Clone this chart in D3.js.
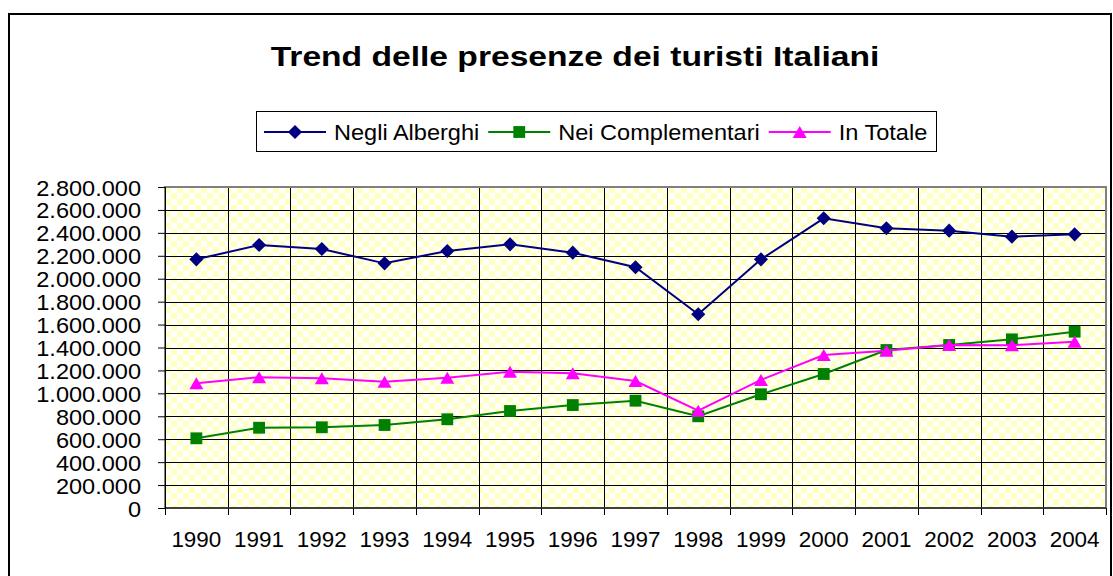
<!DOCTYPE html>
<html>
<head>
<meta charset="utf-8">
<script src="https://cdn.jsdelivr.net/npm/d3@7"></script>
<style>
  body { margin: 0; background: #fff; }
  text { font-family: "Liberation Sans", Arial, sans-serif; fill: #000; }
</style>
</head>
<body>
<div id="chart"></div>
<script>
// chart data
const years = ["1990","1991","1992","1993","1994","1995","1996","1997","1998","1999","2000","2001","2002","2003","2004"];
const alberghi = [2169000, 2294000, 2259000, 2134000, 2242000, 2300000, 2227000, 2100000, 1690000, 2169000, 2527000, 2440000, 2419000, 2367000, 2387000];
const complementari = [608000, 700000, 704000, 724000, 774000, 846000, 898000, 936000, 800000, 992000, 1169000, 1378000, 1422000, 1471000, 1538000];
const totale = [1088000, 1140000, 1131000, 1102000, 1137000, 1189000, 1175000, 1108000, 849000, 1117000, 1335000, 1372000, 1422000, 1420000, 1451000];
const seriesNames = ["Negli Alberghi", "Nei Complementari", "In Totale"];
const yTicks = [0, 200000, 400000, 600000, 800000, 1000000, 1200000, 1400000, 1600000, 1800000, 2000000, 2200000, 2400000, 2600000, 2800000];

const WIDTH = 1113, HEIGHT = 576;
const plot = {left: 165, top: 187, right: 1106, bottom: 508};

// text in the picture is a bit wider than plain Arial
// returns the new width
function stretch(sel, k) {
    let last = 0;
    sel.each(function() {
        let w = this.getComputedTextLength();
        last = w * k;
        d3.select(this).attr("textLength", last).attr("lengthAdjust", "spacingAndGlyphs");
    });
    return last;
}

const it = d3.formatLocale({decimal: ",", thousands: ".", grouping: [3], currency: ["", "€"]});
const fmt = it.format(",d");

let svg = d3.select("#chart").append("svg")
    .attr("width", WIDTH)
    .attr("height", HEIGHT);

svg.append("rect").attr("width", WIDTH).attr("height", HEIGHT).attr("fill", "#fff");

// checkered background of the plot area
let defs = svg.append("defs");
let pat = defs.append("pattern")
    .attr("id", "checker")
    .attr("patternUnits", "userSpaceOnUse")
    .attr("x", plot.left).attr("y", plot.top)
    .attr("width", 12).attr("height", 12);
pat.append("rect").attr("width", 12).attr("height", 12).attr("fill", "#fff");
pat.append("rect").attr("width", 6).attr("height", 6).attr("fill", "#ffffc0");
pat.append("rect").attr("x", 6).attr("y", 6).attr("width", 6).attr("height", 6).attr("fill", "#ffffc0");

// outer frame (bottom edge runs off the picture)
svg.append("rect")
    .attr("x", 9).attr("y", 14)
    .attr("width", 1102).attr("height", 620)
    .attr("fill", "none")
    .attr("stroke", "#000")
    .attr("stroke-width", 2);

// title
let title = svg.append("text")
    .attr("x", 575).attr("y", 66)
    .style("text-anchor", "middle")
    .style("font-size", "28px")
    .style("font-weight", "bold")
    .text("Trend delle presenze dei turisti Italiani");
stretch(title, 1.2);

let x = d3.scaleBand()
    .domain(years)
    .range([plot.left, plot.right]);

let y = d3.scaleLinear()
    .domain([0, 2800000])
    .range([plot.bottom, plot.top]);

svg.append("rect")
    .attr("x", plot.left).attr("y", plot.top)
    .attr("width", plot.right - plot.left).attr("height", plot.bottom - plot.top)
    .attr("fill", "url(#checker)");

// gridlines
svg.append("g").selectAll("line")
    .data(yTicks.slice(1, -1))
    .enter().append("line")
    .attr("x1", plot.left).attr("x2", plot.right)
    .attr("y1", d => Math.round(y(d)) + 0.5).attr("y2", d => Math.round(y(d)) + 0.5)
    .attr("stroke", "#000").attr("stroke-width", 1);

svg.append("g").selectAll("line")
    .data(years.slice(1))
    .enter().append("line")
    .attr("x1", d => Math.round(x(d)) + 0.5).attr("x2", d => Math.round(x(d)) + 0.5)
    .attr("y1", plot.top).attr("y2", plot.bottom)
    .attr("stroke", "#000").attr("stroke-width", 1);

// plot border
svg.append("rect")
    .attr("x", plot.left).attr("y", plot.top)
    .attr("width", plot.right - plot.left).attr("height", plot.bottom - plot.top)
    .attr("fill", "none")
    .attr("stroke", "#808080")
    .attr("stroke-width", 2);

// y axis
let yAxis = svg.append("g")
    .attr("transform", `translate(${plot.left},0)`)
    .call(d3.axisLeft(y).tickValues(yTicks).tickSize(7).tickPadding(17).tickFormat(fmt));
yAxis.attr("font-family", null).attr("font-size", null);
yAxis.select(".domain").attr("stroke", "#000");
yAxis.selectAll(".tick line").attr("stroke", "#000");
yAxis.selectAll("text")
    .attr("dy", null).attr("y", 8)
    .style("font-size", "22px");
stretch(yAxis.selectAll("text"), 1.07);

// x axis: ticks sit on category boundaries
let xAxis = svg.append("g")
    .attr("transform", `translate(0,${plot.bottom})`);
xAxis.append("line")
    .attr("x1", plot.left).attr("x2", plot.right)
    .attr("stroke", "#000");
xAxis.selectAll(".tk")
    .data(years.concat(["end"]))
    .enter().append("line")
    .attr("class", "tk")
    .attr("x1", (d, i) => Math.round(plot.left + i * x.step()) + 0.5)
    .attr("x2", (d, i) => Math.round(plot.left + i * x.step()) + 0.5)
    .attr("y1", 0).attr("y2", 7)
    .attr("stroke", "#000");
let xLabels = xAxis.selectAll(".lbl")
    .data(years)
    .enter().append("text")
    .attr("class", "lbl")
    .attr("x", d => x(d) + x.bandwidth() / 2)
    .attr("y", 39)
    .style("text-anchor", "middle")
    .style("font-size", "22px")
    .text(d => d);
stretch(xLabels, 1.02);

// markers
const triangle = {
    draw: function(ctx, size) {
        let w = Math.sqrt(size) / 2;
        ctx.moveTo(0, -w * 0.86);
        ctx.lineTo(w, w * 0.86);
        ctx.lineTo(-w, w * 0.86);
        ctx.closePath();
    }
};
const series = [
    {name: seriesNames[0], values: alberghi, color: "#000080", symbol: d3.symbol(d3.symbolSquare, 100), rot: 45},
    {name: seriesNames[1], values: complementari, color: "#008000", symbol: d3.symbol(d3.symbolSquare, 140), rot: 0},
    {name: seriesNames[2], values: totale, color: "#ff00ff", symbol: d3.symbol(triangle, 196), rot: 0}
];

let line = d3.line()
    .x((d, i) => x(years[i]) + x.bandwidth() / 2)
    .y(d => y(d));

series.forEach(function(s) {
    let g = svg.append("g");
    g.append("path")
        .attr("d", line(s.values))
        .attr("fill", "none")
        .attr("stroke", s.color)
        .attr("stroke-width", 2);
    g.selectAll("path.mk")
        .data(s.values)
        .enter().append("path")
        .attr("class", "mk")
        .attr("d", s.symbol)
        .attr("transform", (d, i) => `translate(${x(years[i]) + x.bandwidth() / 2},${y(d)}) rotate(${s.rot})`)
        .attr("fill", s.color);
});

// legend
let legend = svg.append("g");
legend.append("rect")
    .attr("x", 256.5).attr("y", 111.5)
    .attr("width", 680).attr("height", 40)
    .attr("fill", "#fff")
    .attr("stroke", "#000");
let lx = 264;
series.forEach(function(s) {
    legend.append("line")
        .attr("x1", lx).attr("x2", lx + 62)
        .attr("y1", 132).attr("y2", 132)
        .attr("stroke", s.color).attr("stroke-width", 2);
    legend.append("path")
        .attr("d", s.symbol)
        .attr("transform", `translate(${lx + 31},132) rotate(${s.rot})`)
        .attr("fill", s.color);
    let t = legend.append("text")
        .attr("x", lx + 70).attr("y", 140)
        .style("font-size", "22px")
        .text(s.name);
    lx += 70 + stretch(t, 1.07) + 9;
});
</script>
</body>
</html>
